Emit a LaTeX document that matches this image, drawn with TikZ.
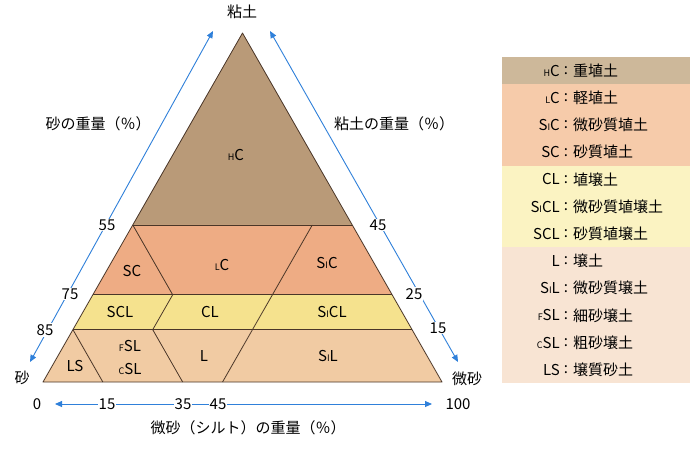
\documentclass[tikz,border=0pt]{standalone}
\usepackage{fontspec}
\setmainfont{Noto Sans CJK JP}
\usetikzlibrary{arrows.meta}
\newcommand{\sm}[1]{{\fontsize{9}{9}\selectfont #1}}
\definecolor{hc}{HTML}{B99A78}
\definecolor{lc}{HTML}{EEAC84}
\definecolor{cl}{HTML}{F5E28E}
\definecolor{ll}{HTML}{F1CBA3}
\definecolor{edge}{HTML}{4A3628}
\definecolor{ax}{HTML}{2F80DA}
\definecolor{g1}{HTML}{CDB89A}
\definecolor{g2}{HTML}{F6CBAA}
\definecolor{g3}{HTML}{FBF3C2}
\definecolor{g4}{HTML}{F8E4D3}
\tikzset{
  lab/.style={font=\fontsize{15}{15}\selectfont, inner sep=1pt},
  num/.style={font=\fontsize{15}{15}\selectfont, fill=white, inner sep=1pt},
  axis/.style={ax, line width=0.9pt, {Triangle[length=7pt,width=6pt]}-{Triangle[length=7pt,width=6pt]}},
  region/.style={draw=edge, line width=0.8pt, line join=round},
}
% point with silt s, clay c
\newcommand{\tp}[2]{({43+3.99*(#1)+1.995*(#2)},{382-3.49*(#2)})}
\begin{document}
\begin{tikzpicture}[x=1pt,y=-1pt]
\useasboundingbox (0,0) rectangle (695,448);
\fill[white] (0,0) rectangle (695,448);
% regions
\fill[hc] \tp{0}{100} -- \tp{0}{45} -- \tp{55}{45} -- cycle;
\fill[lc] \tp{0}{45} -- \tp{55}{45} -- \tp{75}{25} -- \tp{0}{25} -- cycle;
\fill[cl] \tp{0}{25} -- \tp{75}{25} -- \tp{85}{15} -- \tp{0}{15} -- cycle;
\fill[ll] \tp{0}{15} -- \tp{85}{15} -- \tp{100}{0} -- \tp{0}{0} -- cycle;
\draw[region] \tp{0}{100} -- \tp{0}{0} -- \tp{100}{0} -- cycle;
\draw[region] \tp{0}{45} -- \tp{55}{45};
\draw[region] \tp{0}{25} -- \tp{75}{25};
\draw[region] \tp{0}{15} -- \tp{85}{15};
\draw[region] \tp{0}{45} -- \tp{20}{25} -- \tp{20}{15} -- \tp{35}{0};
\draw[region] \tp{45}{45} -- \tp{45}{0};
\draw[region] \tp{0}{15} -- \tp{15}{0};
% region labels
\node[lab] (hc) at (236,155) {\sm{H}C};
\node[lab] (lcn) at (222,265) {\sm{L}C};
\node[lab] (sc) at (132,271) {SC};
\node[lab] (sic) at (327,263) {S\sm{I}C};
\node[lab] (scl) at (120,312) {SCL};
\node[lab] (cln) at (210,312) {CL};
\node[lab] (sicl) at (332,312) {S\sm{I}CL};
\node[lab] (ls) at (75,366) {LS};
\node[lab] (fsl) at (130,346) {\sm{F}SL};
\node[lab] (csl) at (130,369) {\sm{C}SL};
\node[lab] (l) at (204,356) {L};
\node[lab] (sil) at (328,356) {S\sm{I}L};
% axes
\coordinate (la) at (213,31); \coordinate (lb) at (30,362);
\coordinate (ra) at (270,31); \coordinate (rb) at (458,362);
\coordinate (ba) at (55,404); \coordinate (bb) at (432,404);
\draw[axis] (lb) -- (la);
\draw[axis] (ra) -- (rb);
\draw[axis] (ba) -- (bb);
\node[num] (n55) at (107,225) {55};
\node[num] (n75) at (70,294) {75};
\node[num] (n85) at (45,330) {85};
\node[num] (n45) at (378,225) {45};
\node[num] (n25) at (414,294) {25};
\node[num] (n15r) at (438,328) {15};
\node[lab] (n0) at (37,404) {0};
\node[num] (b15) at (107,404) {15};
\node[num] (b35) at (183,404) {35};
\node[num] (b45) at (218,404) {45};
\node[lab] (b100) at (458,404) {100};
\node[lab] (t1) at (22,378) {砂};
\node[lab] (t2) at (467,379) {微砂};
\node[lab] (t3) at (242,12) {粘土};
\node[lab] (t4) at (98,124) {砂の重量（％）};
\node[lab] (t5) at (394,124) {粘土の重量（％）};
\node[lab] (t6) at (248,428) {微砂（シルト）の重量（％）};
% legend
\fill[g1] (502,57) rectangle (690,84.2);
\fill[g2] (502,84.2) rectangle (690,165.8);
\fill[g3] (502,165.8) rectangle (690,247.4);
\fill[g4] (502,247.4) rectangle (690,383);
\foreach \i/\a/\b in {0/\sm{H}C/重埴土,1/\sm{L}C/軽埴土,2/S\sm{I}C/微砂質埴土,3/SC/砂質埴土,4/CL/埴壌土,5/S\sm{I}CL/微砂質埴壌土,6/SCL/砂質埴壌土,7/L/壌土,8/S\sm{I}L/微砂質壌土,9/\sm{F}SL/細砂壌土,10/\sm{C}SL/粗砂壌土,11/LS/壌質砂土}{
  \node[lab, anchor=east] (k\i) at (561,{70.6+27.2*\i}) {\a};
  \node[lab] (c\i) at (566,{70.6+27.2*\i}) {:};
  \node[lab, anchor=west] (v\i) at (572,{70.6+27.2*\i}) {\b};
}
\end{tikzpicture}
\end{document}
